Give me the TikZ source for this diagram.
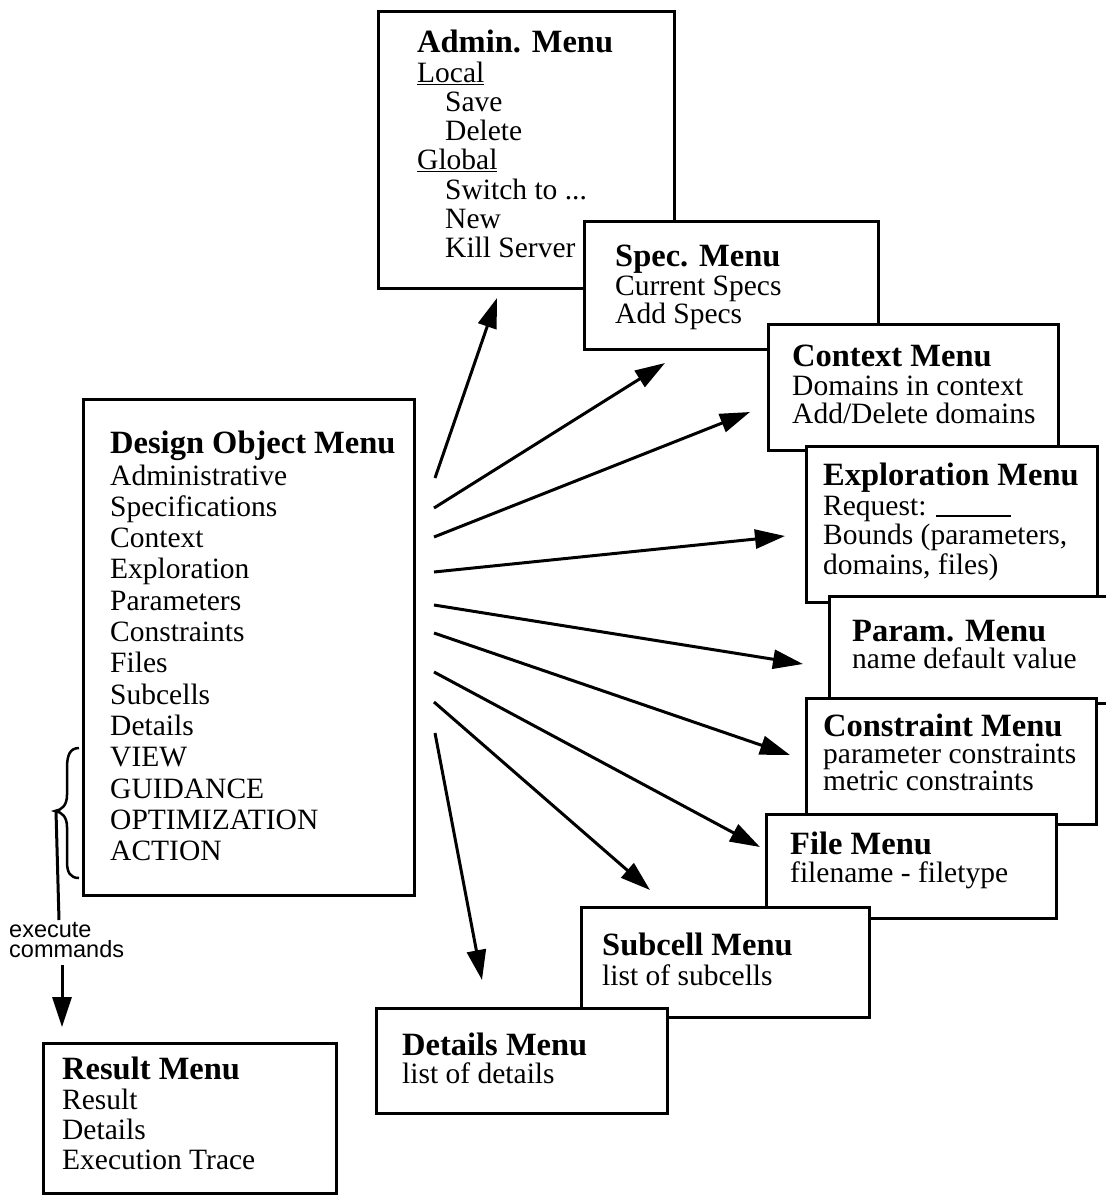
\documentclass[tikz,border=0pt]{standalone}
\usepackage{fontspec}
\setmainfont{Liberation Serif}
\newfontfamily\labelfont{Liberation Sans}
\usetikzlibrary{arrows.meta}
\tikzset{
  menubox/.style={draw, line width=3.2pt, fill=white, inner sep=0pt, anchor=north west},
  menutext/.style={anchor=north west, inner sep=0pt, align=left},
  conn/.style={line width=3pt, -{Triangle[length=30pt,width=19pt]}},
}
\newcommand{\mtitle}[1]{{\bfseries\fontsize{32.5}{30}\selectfont #1}}
\newcommand{\bodyfont}[1]{\fontsize{29.5}{#1}\selectfont\lineskiplimit=-50pt\lineskip=0pt\relax}
\newcommand{\execfont}{\labelfont\fontsize{23.5}{20}\selectfont\lineskiplimit=-50pt\lineskip=0pt\relax}
\newcommand{\ind}{\hspace*{28pt}}
\begin{document}
\begin{tikzpicture}[x=1pt,y=-1pt]
\useasboundingbox (0,0) rectangle (1106,1195);
\clip (0,0) rectangle (1106,1195);

% Admin
\node[menubox, minimum width=296pt, minimum height=277pt] (admin) at (377,10) {};
\node[menutext, font=\bodyfont{29.3}] (admint) at (417,30)
 {\mtitle{Admin. Menu}\\\underline{Local}\\\ind Save\\\ind Delete\\\underline{Global}\\\ind Switch to ...\\\ind New\\\ind Kill Server};
% Spec
\node[menubox, minimum width=294pt, minimum height=128pt] (spec) at (583,220) {};
\node[menutext, font=\bodyfont{28.5}] (spect) at (615,245)
 {\mtitle{Spec. Menu}\\Current Specs\\Add Specs};
% Context
\node[menubox, minimum width=290pt, minimum height=126pt] (context) at (767,323) {};
\node[menutext, font=\bodyfont{28.5}] (contextt) at (792,345)
 {\mtitle{Context Menu}\\Domains in context\\Add/Delete domains};
% Exploration
\node[menubox, minimum width=291pt, minimum height=156pt] (explo) at (805,445) {};
\node[menutext, font=\bodyfont{29.5}] (explot) at (823,463)
 {\mtitle{Exploration Menu}\\Request: \rule[-1.5pt]{75pt}{2pt}\\Bounds (parameters,\\domains, files)};
% Param
\node[menubox, minimum width=290pt, minimum height=107pt] (param) at (828,595) {};
\node[menutext, font=\bodyfont{27}] (paramt) at (852,620)
 {\mtitle{Param. Menu}\\name default value};
% Constraint
\node[menubox, minimum width=290pt, minimum height=126pt] (constr) at (805,697) {};
\node[menutext, font=\bodyfont{27}] (constrt) at (823,714)
 {\mtitle{Constraint Menu}\\parameter constraints\\metric constraints};
% File
\node[menubox, minimum width=290pt, minimum height=104pt] (file) at (765,813) {};
\node[menutext, font=\bodyfont{27.5}] (filet) at (790,832)
 {\mtitle{File Menu}\\filename - filetype};
% Subcell
\node[menubox, minimum width=288pt, minimum height=110pt] (subcell) at (580,906) {};
\node[menutext, font=\bodyfont{30}] (subcellt) at (602,933)
 {\mtitle{Subcell Menu}\\list of subcells};
% Details
\node[menubox, minimum width=291pt, minimum height=105pt] (details) at (375,1007) {};
\node[menutext, font=\bodyfont{28}] (detailst) at (402,1033)
 {\mtitle{Details Menu}\\list of details};
% Design Object
\node[menubox, minimum width=331pt, minimum height=496pt] (design) at (82,398) {};
\node[menutext, font=\bodyfont{31.3}] (designt) at (110,431)
 {\mtitle{Design Object Menu}\\Administrative\\Specifications\\Context\\Exploration\\Parameters\\Constraints\\Files\\Subcells\\Details\\VIEW\\GUIDANCE\\OPTIMIZATION\\ACTION};
% Result
\node[menubox, minimum width=293pt, minimum height=150pt] (result) at (42,1042) {};
\node[menutext, font=\bodyfont{30}] (resultt) at (62,1057)
 {\mtitle{Result Menu}\\Result\\Details\\Execution Trace};

% arrows
\coordinate (s1) at (435,478); \coordinate (e1) at (497,298);
\coordinate (s2) at (434,508); \coordinate (e2) at (665,363);
\coordinate (s3) at (434,537); \coordinate (e3) at (750,412);
\coordinate (s4) at (434,572); \coordinate (e4) at (785,536);
\coordinate (s5) at (434,605); \coordinate (e5) at (803,664);
\coordinate (s6) at (434,633); \coordinate (e6) at (790,755);
\coordinate (s7) at (434,672); \coordinate (e7) at (760,847);
\coordinate (s8) at (434,702); \coordinate (e8) at (650,890);
\coordinate (s9) at (435,733); \coordinate (e9) at (482,980);
\foreach \i in {1,...,9} { \draw[conn] (s\i) -- (e\i); }

% brace and execute commands
\draw[line width=2.5pt] (79,748) .. controls (70,748) and (67,755) .. (67,768) -- (67,795)
  .. controls (67,805) and (62,810) .. (55,811)
  .. controls (62,812) and (67,817) .. (67,827) -- (67,862)
  .. controls (67,872) and (70,878) .. (79,878);
\coordinate (bt) at (56,811);
\coordinate (bl) at (59,920);
\draw[line width=3pt] (bt) -- (bl);
\node[anchor=north west, inner sep=0pt, align=left, font=\execfont] (exec) at (9,922) {execute\\commands};
\coordinate (xs) at (62,965); \coordinate (xe) at (62,1027);
\draw[conn] (xs) -- (xe);
\end{tikzpicture}
\end{document}
